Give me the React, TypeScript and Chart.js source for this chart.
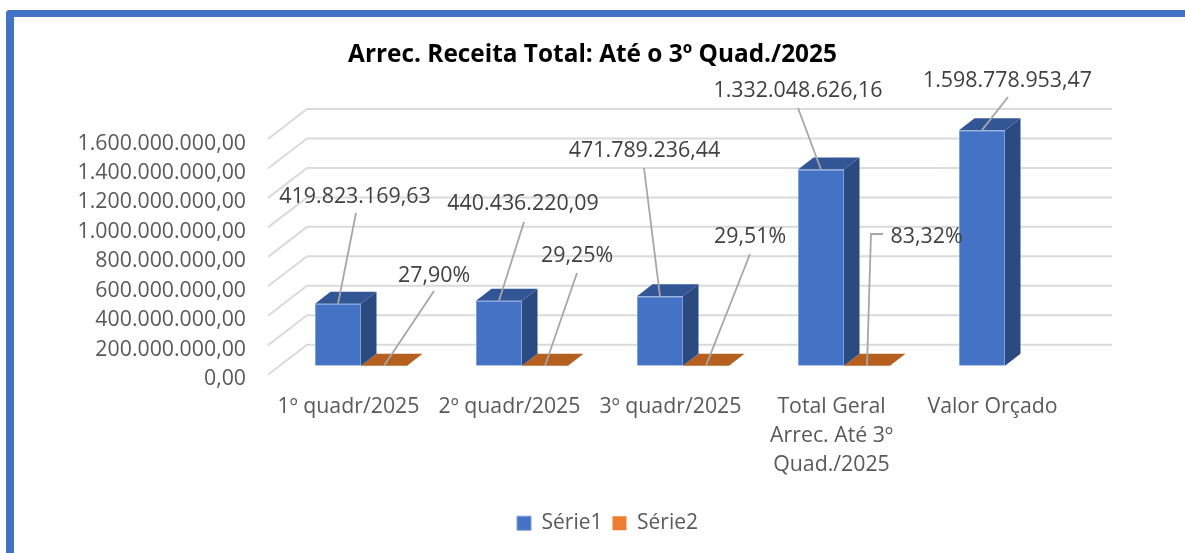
import React, { useEffect, useRef } from "react";
import { Chart, registerables } from "chart.js";

Chart.register(...registerables);

const categories: (string | string[])[] = [
  "1º quadr/2025",
  "2º quadr/2025",
  "3º quadr/2025",
  ["Total Geral", "Arrec. Até 3º", "Quad./2025"],
  "Valor Orçado",
];
const serie1 = [419823169.63, 440436220.09, 471789236.44, 1332048626.16, 1598778953.47];
const serie2 = [0.279, 0.2925, 0.2951, 0.8332, null];
const seriesNames = ["Série1", "Série2"];
const yTicksMax = 1600000000;
const yTicksStep = 200000000;

const FONT = "'Open Sans'";
const W = 1185;
const H = 553;
const shiftX = 12.5;
const shiftY = -9;
const depthX = 15.5;
const depthY = -12;
const wallX = 39;
const wallY = -30;

// Text centres and leader-line elbows for the data labels (dataset, index).
const labelLayout: Record<string, { cx: number; cy: number; pts: number[][] }> = {
  "0-0": { cx: 355, cy: 196.5, pts: [[356, 213]] },
  "0-1": { cx: 523, cy: 203.5, pts: [[524, 222]] },
  "0-2": { cx: 644.5, cy: 150.5, pts: [[644, 168]] },
  "0-3": { cx: 798, cy: 90.5, pts: [[798, 108]] },
  "0-4": { cx: 1007.5, cy: 80.5, pts: [[1008, 97]] },
  "1-0": { cx: 434, cy: 275.5, pts: [[434, 291]] },
  "1-1": { cx: 577, cy: 255.5, pts: [[577, 273]] },
  "1-2": { cx: 750, cy: 236.5, pts: [[750, 254]] },
  "1-3": { cx: 926.5, cy: 236.5, pts: [[883, 234], [871, 234]] },
};

const brl = (v: number) =>
  v.toLocaleString("pt-BR", { minimumFractionDigits: 2, maximumFractionDigits: 2 });
const pct = (v: number) => (v * 100).toFixed(2).replace(".", ",") + "%";

const faceColors = [
  { top: "#325596", side: "#2A4A80" },
  { top: "#B5601F", side: "#A0541A" },
];

const bars3d = {
  id: "bars3d",
  beforeDraw(chart: any) {
    // the legend is centred a little right of the canvas centre
    chart.legend.left = 30;
    chart.legend.right = W;
  },
  beforeDatasetsDraw(chart: any) {
    const { ctx, chartArea, scales } = chart;
    ctx.save();
    ctx.strokeStyle = "#DADADA";
    ctx.lineWidth = 2;
    for (const t of scales.y.ticks) {
      const y = scales.y.getPixelForValue(t.value);
      ctx.beginPath();
      ctx.moveTo(chartArea.left, y);
      ctx.lineTo(chartArea.left + wallX, y + wallY);
      ctx.lineTo(chartArea.right + wallX, y + wallY);
      ctx.stroke();
    }
    ctx.restore();
  },
  beforeDatasetDraw(chart: any, args: any) {
    const { ctx } = chart;
    ctx.save();
    ctx.translate(shiftX, shiftY);
    const colors = faceColors[args.index];
    const values = chart.data.datasets[args.index].data;
    args.meta.data.forEach((el: any, i: number) => {
      if (values[i] == null) return;
      const l = el.x - el.width / 2;
      const r = el.x + el.width / 2;
      const t = el.y;
      const b = el.base;
      ctx.fillStyle = colors.side;
      ctx.beginPath();
      ctx.moveTo(r, t);
      ctx.lineTo(r + depthX, t + depthY);
      ctx.lineTo(r + depthX, b + depthY);
      ctx.lineTo(r, b);
      ctx.closePath();
      ctx.fill();
      ctx.fillStyle = colors.top;
      ctx.beginPath();
      ctx.moveTo(l, t);
      ctx.lineTo(l + depthX, t + depthY);
      ctx.lineTo(r + depthX, t + depthY);
      ctx.lineTo(r, t);
      ctx.closePath();
      ctx.fill();
    });
  },
  afterDatasetDraw(chart: any) {
    chart.ctx.restore();
  },
  afterDatasetsDraw(chart: any) {
    const { ctx } = chart;
    ctx.save();
    [serie1, serie2].forEach((values, d) => {
      const meta = chart.getDatasetMeta(d);
      values.forEach((v, i) => {
        const layout = labelLayout[`${d}-${i}`];
        if (v == null || !layout) return;
        const el = meta.data[i];
        ctx.strokeStyle = "#A6A6A6";
        ctx.lineWidth = 1.8;
        ctx.beginPath();
        layout.pts.forEach((p, k) => (k ? ctx.lineTo(p[0], p[1]) : ctx.moveTo(p[0], p[1])));
        ctx.lineTo(el.x + shiftX, el.y + shiftY);
        ctx.stroke();
        ctx.fillStyle = "#404040";
        ctx.font = `21.4px ${FONT}`;
        ctx.textAlign = "center";
        ctx.textBaseline = "middle";
        ctx.fillText(d === 0 ? brl(v) : pct(v), layout.cx, layout.cy);
      });
    });
    ctx.restore();
  },
};

export default function App() {
  const ref = useRef<HTMLCanvasElement>(null);
  useEffect(() => {
    const chart = new Chart(ref.current!, {
      type: "bar",
      plugins: [bars3d],
      data: {
        labels: categories as any,
        datasets: [
          {
            label: seriesNames[0],
            data: serie1,
            backgroundColor: "#4472C4",
            borderColor: "#7F9FD9",
            borderWidth: 1,
            categoryPercentage: 92 / 161,
            barPercentage: 1,
          },
          {
            label: seriesNames[1],
            data: serie2 as any,
            backgroundColor: "#ED7D31",
            borderWidth: 0,
            categoryPercentage: 92 / 161,
            barPercentage: 1,
          },
        ],
      },
      options: {
        responsive: false,
        animation: false,
        events: [],
        layout: { padding: { bottom: 9.3 } },
        scales: {
          x: {
            grid: { display: false },
            border: { display: false },
            ticks: {
              autoSkip: false,
              maxRotation: 0,
              minRotation: 0,
              padding: 10,
              color: "#595959",
              font: { family: FONT, size: 21.3, lineHeight: "29px" as any },
            },
            afterFit: (s: any) => {
              s.height = 128;
            },
          },
          y: {
            min: 0,
            max: yTicksMax,
            grid: { display: false, drawTicks: false },
            border: { display: false },
            ticks: {
              stepSize: yTicksStep,
              padding: 22,
              labelOffset: 4.5,
              color: "#595959",
              font: { family: FONT, size: 21.3 },
              callback: (v: any) => brl(Number(v)),
            },
            afterFit: (s: any) => {
              s.width = 268;
            },
          },
          yRight: {
            position: "right",
            display: true,
            grid: { display: false, drawTicks: false },
            border: { display: false },
            ticks: { display: false },
            afterFit: (s: any) => {
              s.width = 112;
            },
          },
        },
        plugins: {
          tooltip: { enabled: false },
          title: {
            display: true,
            text: "Arrec. Receita Total: Até o 3º Quad./2025",
            color: "#000000",
            font: { family: FONT, size: 24.4, weight: "bold", lineHeight: 1.2 },
            padding: { top: 40.4, bottom: 69.3 },
          },
          legend: {
            display: true,
            position: "bottom",
            labels: {
              boxWidth: 14,
              boxHeight: 14,
              padding: 10,
              color: "#595959",
              font: { family: FONT, size: 21 },
            },
          },
        },
      } as any,
    });
    return () => chart.destroy();
  }, []);
  return (
    <div style={{ position: "fixed", left: 0, top: 0, width: W, height: H, overflow: "hidden", background: "#fff" }}>
      <div
        style={{
          position: "absolute",
          left: 6,
          top: 10,
          width: W,
          height: H,
          boxSizing: "border-box",
          borderTop: "7.5px solid #4472C4",
          borderLeft: "8px solid #4472C4",
          borderTopLeftRadius: 4,
        }}
      />
      <canvas ref={ref} width={W} height={H} style={{ position: "absolute", left: 0, top: 0, display: "block", background: "transparent" }} />
    </div>
  );
}
